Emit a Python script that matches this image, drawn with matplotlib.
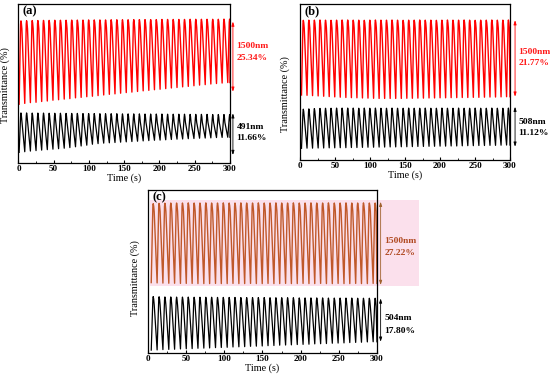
"""
三组透射率循环曲线 (a)(b)(c)
红线: 1500nm, 黑线: 可见光波段
"""

import numpy as np
import matplotlib
matplotlib.use("Agg")
import matplotlib.pyplot as plt
from matplotlib.patches import Rectangle

plt.rcParams["font.family"] = ["Liberation Serif", "DejaVu Serif"]
plt.rcParams["font.weight"] = "bold"

# ── 数据 (从图上读取, y 为任意单位 0-100) ──
a_time = [3.5, 11.5, 19.5, 27.5, 35.5, 43.5, 51.5, 59.5, 67.5, 75.5,
          83.5, 91.5, 99.5, 107.5, 115.5, 123.5, 131.5, 139.5, 147.5, 155.5,
          163.5, 171.5, 179.5, 187.5, 195.5, 203.5, 211.5, 219.5, 227.5, 235.5,
          243.5, 251.5, 259.5, 267.5, 275.5, 283.5, 291.5, 299.5]
a_red_peak = [89.4, 89.5, 89.6, 89.6, 89.7, 89.7, 89.8, 89.8, 89.8, 89.9,
              89.9, 89.9, 90.0, 90.0, 90.0, 90.0, 90.1, 90.1, 90.1, 90.1,
              90.2, 90.2, 90.2, 90.2, 90.2, 90.3, 90.3, 90.3, 90.3, 90.3,
              90.4, 90.4, 90.4, 90.4, 90.4, 90.4, 90.5, 90.5]
a_red_trough = [37.0, 37.5, 38.0, 38.2, 38.7, 39.0, 39.5, 39.8, 40.2, 40.5,
                41.0, 41.3, 41.7, 42.0, 42.4, 42.8, 43.2, 43.5, 43.9, 44.3,
                44.6, 45.0, 45.4, 45.7, 46.1, 46.4, 46.8, 47.2, 47.5, 47.9,
                48.2, 48.6, 49.0, 49.3, 49.7, 50.0, 50.3, 50.6]
a_blk_peak = [31.5, 31.5, 31.4, 31.4, 31.4, 31.3, 31.3, 31.3, 31.2, 31.2,
              31.2, 31.1, 31.1, 31.1, 31.0, 31.0, 31.0, 31.0, 30.9, 30.9,
              30.9, 30.9, 30.8, 30.8, 30.8, 30.8, 30.7, 30.7, 30.7, 30.7,
              30.6, 30.6, 30.6, 30.6, 30.5, 30.5, 30.5, 30.5]
a_blk_trough = [6.7, 7.1, 7.5, 7.8, 8.1, 8.4, 8.7, 9.0, 9.3, 9.7,
                10.2, 10.7, 11.2, 11.8, 12.2, 12.5, 12.7, 12.9, 13.1, 13.3,
                13.5, 13.7, 13.9, 14.1, 14.3, 14.4, 14.6, 14.8, 15.0, 15.1,
                15.3, 15.4, 15.6, 15.7, 15.8, 16.0, 16.1, 16.2]

b_time = [4.7, 12.6, 20.5, 28.5, 36.4, 44.3, 52.2, 60.1, 68.1, 76.0,
          83.9, 91.8, 99.7, 107.7, 115.6, 123.5, 131.4, 139.3, 147.3, 155.2,
          163.1, 171.0, 178.9, 186.9, 194.8, 202.7, 210.6, 218.5, 226.5, 234.4,
          242.3, 250.2, 258.1, 266.1, 274.0, 281.9, 289.8, 297.7]
b_red_peak = [89.6, 89.7, 89.7, 89.8, 89.7, 89.6, 89.7, 89.8, 89.8, 89.7,
              89.7, 89.6, 89.7, 89.8, 89.7, 89.7, 89.8, 89.7, 89.6, 89.7,
              89.7, 89.8, 89.7, 89.7, 89.6, 89.7, 89.8, 89.7, 89.7, 89.8,
              89.7, 89.6, 89.7, 89.7, 89.8, 89.7, 89.7, 89.8]
b_red_trough = [41.7, 41.5, 41.3, 41.1, 40.9, 40.7, 40.5, 40.3, 40.1, 40.0,
                39.9, 39.8, 39.7, 39.6, 39.5, 39.5, 39.5, 39.5, 39.5, 39.6,
                39.6, 39.7, 39.7, 39.8, 39.8, 39.9, 39.9, 40.0, 40.0, 40.1,
                40.1, 40.2, 40.2, 40.3, 40.4, 40.4, 40.5, 40.6]
b_blk_peak = [32.6, 32.8, 33.0, 33.1, 33.2, 33.2, 33.3, 33.3, 33.3, 33.3,
              33.2, 33.3, 33.2, 33.3, 33.2, 33.2, 33.3, 33.2, 33.2, 33.3,
              33.2, 33.2, 33.3, 33.2, 33.2, 33.3, 33.2, 33.2, 33.3, 33.2,
              33.2, 33.3, 33.2, 33.2, 33.3, 33.2, 33.2, 33.3]
b_blk_trough = [7.5, 7.6, 7.6, 7.7, 7.7, 7.8, 7.8, 7.9, 7.9, 8.0,
                8.0, 8.1, 8.2, 8.2, 8.3, 8.3, 8.4, 8.4, 8.5, 8.5,
                8.6, 8.7, 8.7, 8.8, 8.8, 8.9, 8.9, 9.0, 9.0, 9.1,
                9.2, 9.2, 9.3, 9.3, 9.4, 9.4, 9.5, 9.6]

c_time = [6.9, 14.6, 22.2, 29.9, 37.5, 45.2, 52.8, 60.5, 68.1, 75.8,
          83.4, 91.1, 98.7, 106.4, 114.0, 121.7, 129.3, 137.0, 144.6, 152.3,
          159.9, 167.6, 175.2, 182.9, 190.5, 198.2, 205.8, 213.5, 221.1, 228.8,
          236.4, 244.1, 251.7, 259.4, 267.0, 274.7, 282.3, 290.0, 297.6]
c_red_peak = [91.6, 91.8, 91.9, 92.0, 92.0, 92.0, 92.1, 92.0, 92.0, 92.1,
              92.0, 92.0, 92.1, 92.0, 92.0, 92.1, 92.0, 92.0, 92.1, 92.0,
              92.0, 92.1, 92.0, 92.0, 92.1, 92.0, 92.0, 92.1, 92.0, 92.0,
              92.1, 92.0, 92.0, 92.1, 92.0, 92.0, 92.1, 92.0, 92.0]
c_red_trough = [43.2, 43.0, 42.9, 42.8, 42.8, 42.7, 42.7, 42.7, 42.6, 42.6,
                42.6, 42.7, 42.6, 42.6, 42.7, 42.6, 42.6, 42.7, 42.6, 42.6,
                42.7, 42.6, 42.6, 42.7, 42.6, 42.6, 42.7, 42.6, 42.6, 42.7,
                42.6, 42.6, 42.7, 42.6, 42.6, 42.7, 42.6, 42.6, 42.7]
c_blk_peak = [34.6, 34.5, 34.4, 34.4, 34.3, 34.3, 34.3, 34.2, 34.2, 34.2,
              34.2, 34.1, 34.1, 34.1, 34.1, 34.0, 34.0, 34.0, 34.0, 34.0,
              33.9, 33.9, 33.9, 33.9, 33.9, 33.8, 33.8, 33.8, 33.8, 33.8,
              33.7, 33.7, 33.7, 33.7, 33.7, 33.6, 33.6, 33.6, 33.6]
c_blk_trough = [1.8, 1.9, 2.1, 2.2, 2.3, 2.5, 2.6, 2.7, 2.9, 3.0,
                3.1, 3.3, 3.4, 3.5, 3.7, 3.8, 3.9, 4.1, 4.2, 4.3,
                4.5, 4.6, 4.8, 4.9, 5.0, 5.2, 5.3, 5.4, 5.6, 5.7,
                5.8, 6.0, 6.1, 6.2, 6.4, 6.5, 6.6, 6.8, 6.9]

# 右侧标注: (波长, 调制幅度)
a_labels = [("1500nm", "25.34%"), ("491nm", "11.66%")]
b_labels = [("1500nm", "21.77%"), ("508nm", "11.12%")]
c_labels = [("1500nm", "27.22%"), ("504nm", "17.80%")]


def cycle_curve(t_peak, peaks, troughs, rise=2.6, fall=4.6):
    """波谷 -> 波峰 -> 波谷 的折线顶点 (峰顶略圆)"""
    xs, ys = [], []
    for tp, p, tr in zip(t_peak, peaks, troughs):
        xs += [tp - rise, tp - 0.5, tp, tp + 0.6, tp + 1.3]
        ys += [tr, p - 2.0, p, p - 1.5, p - 5.0]
    xs.append(min(t_peak[-1] + fall, 300))
    ys.append(troughs[-1])
    return np.array(xs), np.array(ys)


def draw_panel(ax, letter, t, red, blk, labels, red_c, txt_c, arr_c,
               red_arrow, blk_arrow, txt_y, ylab_xy):
    xr, yr = cycle_curve(t, red[0], red[1])
    xb, yb = cycle_curve(t, blk[0], blk[1])
    ax.plot(xr, yr, color=red_c, lw=1.0, solid_joinstyle="round")
    ax.plot(xb, yb, color="black", lw=0.9, solid_joinstyle="round")

    ax.set_xlim(0, 300)
    ax.set_ylim(0, 100)
    ax.set_xticks(range(0, 301, 50))
    ax.set_xticks(range(25, 300, 50), minor=True)
    ax.set_yticks([])
    ax.tick_params(axis="x", which="major", direction="in", length=2.5,
                   width=0.8, labelsize=6.6, pad=1.5)
    ax.tick_params(axis="x", which="minor", direction="in", length=1.5, width=0.6)
    for s in ax.spines.values():
        s.set_linewidth(0.9)

    ax.set_xlabel("Time (s)", fontsize=7.3, labelpad=0.5)
    ax.set_ylabel("Transmittance (%)", fontsize=7.3)
    ax.yaxis.set_label_coords(*ylab_xy)
    ax.text(0.02, 0.99, letter, transform=ax.transAxes, fontsize=9,
            va="top", ha="left")

    tr = ax.get_yaxis_transform()
    for (y0, y1), col in [(red_arrow[1:], arr_c), (blk_arrow[1:], "black")]:
        x_ar = red_arrow[0]
        ax.annotate("", xy=(x_ar, y0), xytext=(x_ar, y1), xycoords=tr,
                    textcoords=tr, annotation_clip=False,
                    arrowprops=dict(arrowstyle="<|-|>,head_length=0.25,head_width=0.08",
                                    color=col, lw=0.6, shrinkA=0, shrinkB=0))
    x_tx = red_arrow[0] + 0.017
    for (name, amp), (y0, y1), col in zip(labels, txt_y, [txt_c, "black"]):
        ax.text(x_tx, y0, name, transform=tr, fontsize=6.8, color=col,
                va="center", ha="left")
        ax.text(x_tx, y1, amp, transform=tr, fontsize=6.8, color=col,
                va="center", ha="left")


fig = plt.figure(figsize=(5.5, 3.84), dpi=100)

ax_a = fig.add_axes([0.0336, 0.5755, 0.3845, 0.414])
ax_b = fig.add_axes([0.5455, 0.5833, 0.3818, 0.406])
ax_c = fig.add_axes([0.269, 0.0807, 0.4164, 0.4245])

# (c) 红色区域的浅粉底色
ax_c.set_facecolor("none")
fig.patches.append(Rectangle((0.272, 0.255), 0.49, 0.225, transform=fig.transFigure,
                             facecolor="#fbe0ec", edgecolor="none", zorder=-1))

draw_panel(ax_a, "(a)", a_time, (a_red_peak, a_red_trough), (a_blk_peak, a_blk_trough),
           a_labels, "#ff0000", "#ff1a1a", "#ff0000",
           (1.014, 89.0, 44.8), (1.014, 31.3, 5.0),
           [(73.6, 66.0), (22.6, 15.7)], (-0.042, 0.49))
draw_panel(ax_b, "(b)", b_time, (b_red_peak, b_red_trough), (b_blk_peak, b_blk_trough),
           b_labels, "#ff0000", "#ff1a1a", "#ff0000",
           (1.024, 89.7, 40.6), (1.024, 34.2, 8.5),
           [(69.0, 62.0), (24.6, 17.1)], (-0.048, 0.42))
draw_panel(ax_c, "(c)", c_time, (c_red_peak, c_red_trough), (c_blk_peak, c_blk_trough),
           c_labels, "#c0582a", "#b04a22", "#a0622d",
           (1.016, 92.8, 41.7), (1.016, 33.5, 6.9),
           [(68.9, 61.2), (21.7, 13.7)], (-0.035, 0.46))

plt.savefig("out.png", dpi=100)
plt.close()
